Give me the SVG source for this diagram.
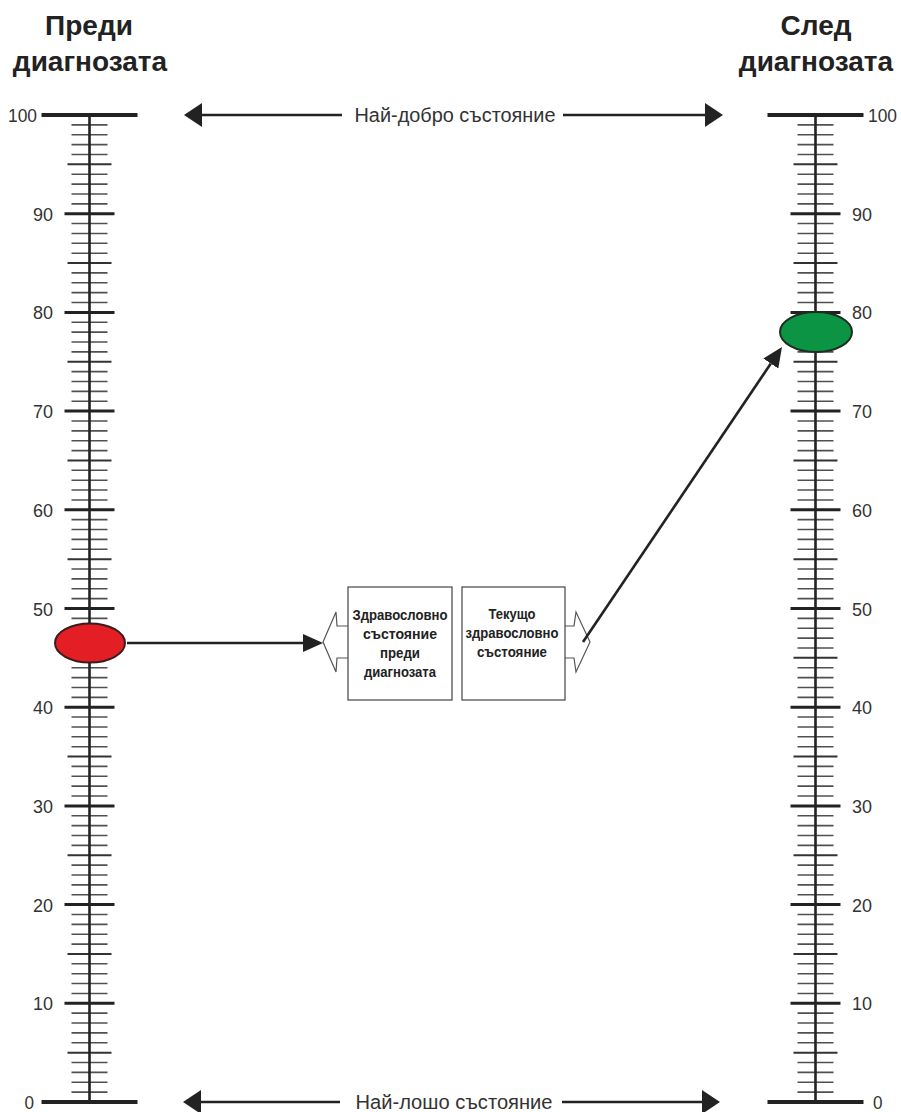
<svg xmlns="http://www.w3.org/2000/svg" xmlns:xlink="http://www.w3.org/1999/xlink" width="901" height="1112" viewBox="0 0 901 1112">
<style>
.title{font-family:"Liberation Sans",Arial,sans-serif;font-weight:bold;font-size:28px;fill:#222;text-anchor:middle}
.num{font-family:"Liberation Sans",Arial,sans-serif;font-size:19px;fill:#333}
.lab{font-family:"Liberation Sans",Arial,sans-serif;font-size:20px;fill:#333;text-anchor:middle}
.box{font-family:"Liberation Sans",Arial,sans-serif;font-weight:bold;font-size:14.5px;fill:#222;text-anchor:middle}
.minor{stroke:#505050;stroke-width:1.6}
.mid{stroke:#333;stroke-width:2}
.major{stroke:#222;stroke-width:3}
.axis{stroke:#222;stroke-width:2.6}
.end{stroke:#222;stroke-width:4}
.conn{stroke:#222;stroke-width:2.6;fill:none}
.hollow{stroke:#555;stroke-width:1.2;fill:#fff}
.rect{stroke:#444;stroke-width:1.2;fill:#fff}
</style>
<defs>
<marker id="ahBig" markerUnits="userSpaceOnUse" markerWidth="18" markerHeight="24" refX="0" refY="12" orient="auto-start-reverse">
<path d="M0,0 L18,12 L0,24 z" fill="#222"/>
</marker>
<marker id="ahSmall" markerUnits="userSpaceOnUse" markerWidth="20" markerHeight="18" refX="0" refY="9" orient="auto-start-reverse">
<path d="M0,0 L20,9 L0,18 z" fill="#222"/>
</marker>
<g id="decade">
<line class="minor" x1="-18" x2="18" y1="-9.87" y2="-9.87"/>
<line class="minor" x1="-18" x2="18" y1="-19.74" y2="-19.74"/>
<line class="minor" x1="-18" x2="18" y1="-29.61" y2="-29.61"/>
<line class="minor" x1="-18" x2="18" y1="-39.48" y2="-39.48"/>
<line class="mid" x1="-22" x2="22" y1="-49.35" y2="-49.35"/>
<line class="minor" x1="-18" x2="18" y1="-59.22" y2="-59.22"/>
<line class="minor" x1="-18" x2="18" y1="-69.09" y2="-69.09"/>
<line class="minor" x1="-18" x2="18" y1="-78.96" y2="-78.96"/>
<line class="minor" x1="-18" x2="18" y1="-88.83" y2="-88.83"/>
</g>
<g id="scale">
<use xlink:href="#decade" href="#decade" y="1102"/>
<use xlink:href="#decade" href="#decade" y="1003.3"/>
<use xlink:href="#decade" href="#decade" y="904.6"/>
<use xlink:href="#decade" href="#decade" y="805.9"/>
<use xlink:href="#decade" href="#decade" y="707.2"/>
<use xlink:href="#decade" href="#decade" y="608.5"/>
<use xlink:href="#decade" href="#decade" y="509.8"/>
<use xlink:href="#decade" href="#decade" y="411.1"/>
<use xlink:href="#decade" href="#decade" y="312.4"/>
<use xlink:href="#decade" href="#decade" y="213.7"/>
<line class="major" x1="-25" x2="25" y1="1003.3" y2="1003.3"/>
<line class="major" x1="-25" x2="25" y1="904.6" y2="904.6"/>
<line class="major" x1="-25" x2="25" y1="805.9" y2="805.9"/>
<line class="major" x1="-25" x2="25" y1="707.2" y2="707.2"/>
<line class="major" x1="-25" x2="25" y1="608.5" y2="608.5"/>
<line class="major" x1="-25" x2="25" y1="509.8" y2="509.8"/>
<line class="major" x1="-25" x2="25" y1="411.1" y2="411.1"/>
<line class="major" x1="-25" x2="25" y1="312.4" y2="312.4"/>
<line class="major" x1="-25" x2="25" y1="213.7" y2="213.7"/>
<line class="axis" x1="0" x2="0" y1="115" y2="1102"/>
<line class="end" x1="-48" x2="48" y1="115" y2="115"/>
<line class="end" x1="-48" x2="48" y1="1102" y2="1102"/>
</g>
</defs>

<g id="title-before">
<text class="title" x="89" y="35">Преди</text>
<text class="title" x="90" y="71">диагнозата</text>
</g>
<g id="title-after">
<text class="title" x="816" y="35">След</text>
<text class="title" x="816" y="71">диагнозата</text>
</g>

<g id="scale-before">
<use xlink:href="#scale" href="#scale" x="89.5"/>
<g class="num" text-anchor="end" lengthAdjust="spacingAndGlyphs">
<text x="37" y="122" textLength="29" lengthAdjust="spacingAndGlyphs">100</text>
<text x="53" y="220.7" textLength="20" lengthAdjust="spacingAndGlyphs">90</text>
<text x="53" y="319.4" textLength="20" lengthAdjust="spacingAndGlyphs">80</text>
<text x="53" y="418.1" textLength="20" lengthAdjust="spacingAndGlyphs">70</text>
<text x="53" y="516.8" textLength="20" lengthAdjust="spacingAndGlyphs">60</text>
<text x="53" y="615.5" textLength="20" lengthAdjust="spacingAndGlyphs">50</text>
<text x="53" y="714.2" textLength="20" lengthAdjust="spacingAndGlyphs">40</text>
<text x="53" y="812.9" textLength="20" lengthAdjust="spacingAndGlyphs">30</text>
<text x="53" y="911.6" textLength="20" lengthAdjust="spacingAndGlyphs">20</text>
<text x="53" y="1010.3" textLength="20" lengthAdjust="spacingAndGlyphs">10</text>
<text x="34" y="1109" textLength="9.5" lengthAdjust="spacingAndGlyphs">0</text>
</g>
</g>

<g id="scale-after">
<use xlink:href="#scale" href="#scale" x="815.5"/>
<g class="num">
<text x="868" y="122" textLength="29" lengthAdjust="spacingAndGlyphs">100</text>
<text x="852" y="220.7" textLength="20" lengthAdjust="spacingAndGlyphs">90</text>
<text x="852" y="319.4" textLength="20" lengthAdjust="spacingAndGlyphs">80</text>
<text x="852" y="418.1" textLength="20" lengthAdjust="spacingAndGlyphs">70</text>
<text x="852" y="516.8" textLength="20" lengthAdjust="spacingAndGlyphs">60</text>
<text x="852" y="615.5" textLength="20" lengthAdjust="spacingAndGlyphs">50</text>
<text x="852" y="714.2" textLength="20" lengthAdjust="spacingAndGlyphs">40</text>
<text x="852" y="812.9" textLength="20" lengthAdjust="spacingAndGlyphs">30</text>
<text x="852" y="911.6" textLength="20" lengthAdjust="spacingAndGlyphs">20</text>
<text x="852" y="1010.3" textLength="20" lengthAdjust="spacingAndGlyphs">10</text>
<text x="873" y="1109" textLength="9.5" lengthAdjust="spacingAndGlyphs">0</text>
</g>
</g>

<g id="marker-before">
<ellipse cx="90" cy="643" rx="35" ry="19.5" fill="#e31e25" stroke="#3b1d1d" stroke-width="2"/>
</g>
<g id="marker-after">
<ellipse cx="816" cy="332" rx="36" ry="20" fill="#0b9444" stroke="#1e2d22" stroke-width="2"/>
</g>

<g id="box-before">
<path class="hollow" d="M348,626 L337,626 L336,612 L323,642 L336,672 L337,658 L348,658"/>
<rect class="rect" x="348" y="587" width="104" height="113"/>
<text class="box" x="400" y="620" textLength="95" lengthAdjust="spacingAndGlyphs">Здравословно</text>
<text class="box" x="400" y="639" textLength="74" lengthAdjust="spacingAndGlyphs">състояние</text>
<text class="box" x="400" y="658" textLength="40" lengthAdjust="spacingAndGlyphs">преди</text>
<text class="box" x="400" y="677" textLength="72" lengthAdjust="spacingAndGlyphs">диагнозата</text>
</g>
<g id="box-current">
<path class="hollow" d="M565,626 L574,626 L576,612 L590,642 L576,672 L574,658 L565,658"/>
<rect class="rect" x="462" y="587" width="103" height="113"/>
<text class="box" x="512" y="619" textLength="47" lengthAdjust="spacingAndGlyphs">Текущо</text>
<text class="box" x="512" y="638" textLength="93" lengthAdjust="spacingAndGlyphs">здравословно</text>
<text class="box" x="512" y="657" textLength="70" lengthAdjust="spacingAndGlyphs">състояние</text>
</g>

<g id="label-best">
<text class="lab" x="455" y="122" textLength="201" lengthAdjust="spacingAndGlyphs">Най-добро състояние</text>
</g>
<g id="label-worst">
<text class="lab" x="454" y="1109" textLength="197" lengthAdjust="spacingAndGlyphs">Най-лошо състояние</text>
</g>

<g id="connectors">
<line class="conn" x1="342" y1="115" x2="202" y2="115" marker-end="url(#ahBig)"/>
<line class="conn" x1="563" y1="115" x2="705" y2="115" marker-end="url(#ahBig)"/>
<line class="conn" x1="340" y1="1102" x2="201" y2="1102" marker-end="url(#ahBig)"/>
<line class="conn" x1="562" y1="1102" x2="702" y2="1102" marker-end="url(#ahBig)"/>
<line class="conn" x1="127" y1="643" x2="303" y2="643" marker-end="url(#ahSmall)"/>
<line class="conn" x1="583" y1="642" x2="770.8" y2="363.6" marker-end="url(#ahSmall)"/>
</g>
</svg>
